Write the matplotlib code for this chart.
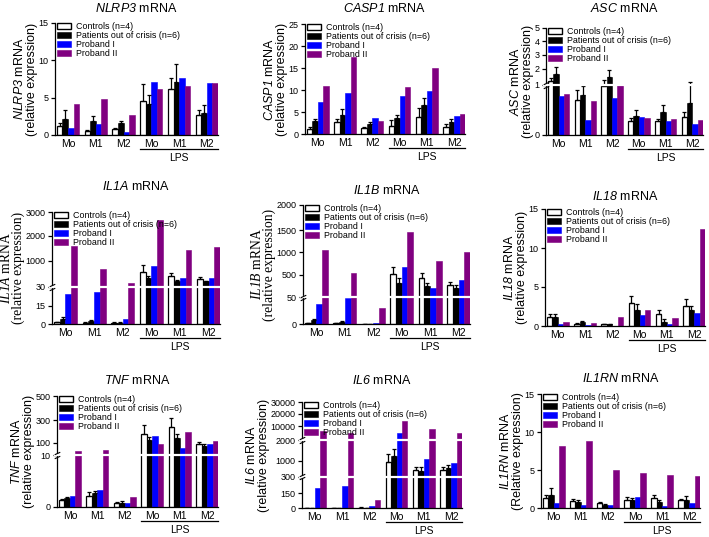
import numpy as np
import matplotlib
matplotlib.use('Agg')
import matplotlib.pyplot as plt
from matplotlib.patches import Patch
from matplotlib.path import Path
from matplotlib.transforms import ScaledTranslation

plt.rcParams['font.family'] = 'Liberation Sans'
# gene names go through mathtext so that letters and digits are both italic
plt.rcParams['mathtext.fontset'] = 'custom'
plt.rcParams['mathtext.rm'] = 'Liberation Sans:italic'
plt.rcParams['mathtext.sf'] = 'Liberation Serif:italic'

groups = ['Mo', 'M1', 'M2', 'Mo', 'M1', 'M2']
series = ['Controls (n=4)', 'Patients out of crisis (n=6)', 'Proband I', 'Proband II']
colors = ['white', 'black', '#0000ff', '#800080']

# NLRP3
nlrp3_c = [1.2, 0.6, 0.8, 4.6, 6.2, 2.7]
nlrp3_c_sem = [0.4, 0.1, 0.15, 2.2, 1.5, 0.7]
nlrp3_p = [2.2, 1.9, 1.6, 4.1, 7.1, 3.0]
nlrp3_p_sem = [1.1, 0.7, 0.3, 1.3, 2.4, 1.0]
nlrp3_p1 = [0.9, 1.5, 0.45, 7.1, 7.6, 6.9]
nlrp3_p2 = [4.2, 4.8, 2.7, 6.1, 6.5, 6.9]

# CASP1
casp1_c = [1.2, 2.8, 1.3, 1.9, 3.8, 1.5]
casp1_c_sem = [0.3, 0.7, 0.2, 1.3, 2.1, 0.8]
casp1_p = [3.0, 4.4, 2.3, 3.6, 6.7, 2.7]
casp1_p_sem = [0.3, 1.2, 0.5, 0.8, 1.4, 0.7]
casp1_p1 = [7.2, 9.4, 3.7, 8.6, 9.8, 4.2]
casp1_p2 = [11.0, 17.5, 3.0, 10.7, 15.1, 4.6]

# ASC
asc_c = [1.25, 0.7, 0.98, 0.28, 0.28, 0.35]
asc_c_sem = [0.2, 0.2, 0.3, 0.05, 0.04, 0.1]
asc_p = [1.7, 0.79, 1.5, 0.37, 0.46, 0.63]
asc_p_sem = [0.4, 0.18, 0.4, 0.13, 0.14, 0.55]
asc_p1 = [0.78, 0.3, 0.73, 0.35, 0.28, 0.21]
asc_p2 = [0.81, 0.68, 1.0, 0.33, 0.32, 0.29]

# IL1A
il1a_c = [1.5, 1, 1, 590, 430, 320]
il1a_c_sem = [0.5, 0.3, 0.3, 250, 120, 60]
il1a_p = [4, 2.5, 1, 340, 240, 240]
il1a_p_sem = [1.5, 1, 0.3, 90, 60, 20]
il1a_p1 = [24, 26, 4, 800, 340, 340]
il1a_p2 = [1590, 680, 190, 2650, 1420, 1560]

# IL1B
il1b_c = [2, 2, 0.5, 520, 430, 300]
il1b_c_sem = [0.5, 0.5, 0.2, 150, 120, 55]
il1b_p = [7, 4, 0.5, 345, 280, 245]
il1b_p_sem = [2, 1.5, 0.2, 90, 55, 55]
il1b_p1 = [37, 48, 1.5, 684, 231, 390]
il1b_p2 = [1050, 550, 30, 1450, 800, 1015]

# IL18
il18_c = [1.2, 0.3, 0.2, 3.0, 1.6, 2.6]
il18_c_sem = [0.4, 0.1, 0.05, 0.9, 0.5, 0.8]
il18_p = [1.1, 0.5, 0.2, 2.0, 0.5, 2.0]
il18_p_sem = [0.5, 0.2, 0.05, 0.8, 0.4, 0.6]
il18_p1 = [0.2, 0.1, 0.05, 1.4, 0.2, 1.7]
il18_p2 = [0.5, 0.4, 1.2, 2.1, 1.0, 12.5]

# TNF
tnf_c = [1.3, 2.1, 0.8, 180, 235, 88]
tnf_c_sem = [0.2, 0.7, 0.2, 75, 85, 20]
tnf_p = [1.7, 2.7, 0.8, 124, 144, 76]
tnf_p_sem = [0.3, 0.4, 0.3, 23, 32, 12]
tnf_p1 = [2.1, 3.2, 0.8, 159, 63, 90]
tnf_p2 = [42, 51, 1.9, 90, 197, 118]

# IL6
il6_c = [2, 1, 5, 950, 590, 590]
il6_c_sem = [1, 0.5, 2, 370, 150, 120]
il6_p = [3, 3, 3, 1220, 560, 660]
il6_p_sem = [1, 1, 1, 360, 150, 150]
il6_p1 = [200, 210, 25, 6300, 1100, 910]
il6_p2 = [7500, 5800, 80, 13900, 8300, 5800]

# IL1RN
il1rn_c = [1.3, 0.9, 0.6, 1.1, 1.3, 1.0]
il1rn_c_sem = [0.4, 0.3, 0.2, 0.3, 0.4, 0.2]
il1rn_p = [1.7, 0.8, 0.4, 1.0, 0.8, 1.0]
il1rn_p_sem = [0.9, 0.3, 0.1, 0.3, 0.2, 0.6]
il1rn_p1 = [0.7, 0.4, 0.4, 1.4, 0.3, 0.6]
il1rn_p2 = [8.1, 8.8, 5.0, 4.6, 4.3, 4.2]

# y ticks and (for broken axes) relative heights of those ticks
nlrp3_ticks = [0, 5, 10, 15]
casp1_ticks = [0, 5, 10, 15, 20, 25]
asc_ticks = [0, 1, 2, 3, 4, 5]
asc_h = [0, 150, 198, 240, 280, 320]
il1a_ticks = [0, 15, 30, 1000, 2000, 3000]
il1a_h = [0, 55, 112, 190, 265, 337]
il1b_ticks = [0, 50, 500, 1000, 1500, 2000]
il1b_h = [0, 80, 147, 215, 282, 357]
il18_ticks = [0, 5, 10, 15]
tnf_ticks = [0, 10, 100, 300, 500]
tnf_h = [0, 155, 192, 260, 332]
il6_ticks = [0, 150, 300, 1000, 2000, 10000, 20000, 30000]
il6_h = [0, 45, 95, 143, 205, 247, 285, 320]
il1rn_ticks = [0, 5, 10, 15]

W, H = 709, 537
fig = plt.figure(figsize=(W / 100, H / 100), dpi=100)

slash = Path([(-1, -0.45), (1, 0.45)], [Path.MOVETO, Path.LINETO])


def panel(box, title_y, gene, c, c_sem, p, p_sem, p1, p2, ticks, heights=None,
          breaks=(), serif=False, rel='relative', xlim=(-0.47, 5.4)):
    x0, x1, ytop, ybot = box
    ax = fig.add_axes([x0 / W, (H - ybot) / H, (x1 - x0) / W, (ybot - ytop) / H])
    axh = ybot - ytop
    if heights is not None:
        fwd = lambda v, t=ticks, h=heights: np.interp(v, t, h)
        inv = lambda v, t=ticks, h=heights: np.interp(v, h, t)
        ax.set_yscale('function', functions=(fwd, inv))
    x = np.arange(len(groups))
    bw = 0.2
    vals = [c, p, p1, p2]
    for i, (v, col) in enumerate(zip(vals, colors)):
        xs = x + (i - 1.5) * bw
        ec = 'black' if i < 2 else col
        ax.bar(xs, v, width=bw, color=col, edgecolor=ec, linewidth=0.9 if i == 0 else 0.4, zorder=2)
        if i < 2:
            sem = [c_sem, p_sem][i]
            ax.errorbar(xs, v, yerr=[np.zeros(len(v)), sem], fmt='none', ecolor='black',
                        elinewidth=0.9, capsize=1.6, capthick=0.9, zorder=3)
    ax.set_xlim(*xlim)
    ax.set_ylim(0, ticks[-1])
    ax.set_yticks(ticks)
    ax.set_yticklabels([str(t) for t in ticks])
    ax.yaxis.set_minor_locator(plt.NullLocator())
    ax.set_xticks(x)
    ax.set_xticklabels(groups)
    ax.tick_params(axis='x', length=0, pad=3, labelsize=7.5)
    ax.tick_params(axis='y', length=3, width=0.9, pad=1.5, labelsize=6.5)
    for s in ['top', 'right']:
        ax.spines[s].set_visible(False)
    for s in ['left', 'bottom']:
        ax.spines[s].set_linewidth(0.9)

    for b in breaks:
        ax.plot([-0.02, 1], [b, b], transform=ax.get_yaxis_transform(), color='white',
                lw=1.6, clip_on=False, zorder=5, solid_capstyle='butt')
        for dy in (-1.3, 1.3):
            tr = ax.get_yaxis_transform() + ScaledTranslation(0, dy / 72, fig.dpi_scale_trans)
            ax.plot([0], [b], transform=tr, marker=slash, ms=4, mew=0.8, color='black',
                    clip_on=False, zorder=6)

    # LPS bracket
    ly = -14 / axh
    ax.plot([2.6, xlim[1]], [ly, ly], transform=ax.get_xaxis_transform(), color='black',
            lw=0.9, clip_on=False)
    ax.text(4.0, -23 / axh, 'LPS', transform=ax.get_xaxis_transform(), ha='center',
            va='center', fontsize=7.5)

    ax.set_title(r'$\mathrm{%s}$ mRNA' % gene, fontsize=9, y=1 + (ytop - title_y) / axh,
                 va='center', pad=0)
    if serif:
        lab = r'$\mathsf{%s}$ mRNA' % gene + '\n(%s expression)' % rel
        ax.set_ylabel(lab, fontsize=9.8, family='Liberation Serif',
                      linespacing=0.85, labelpad=0.3)
    else:
        lab = r'$\mathrm{%s}$ mRNA' % gene + '\n(%s expression)' % rel
        ax.set_ylabel(lab, fontsize=9, linespacing=1.05, labelpad=0.5)

    handles = [Patch(facecolor=col, edgecolor='black' if i < 2 else col, linewidth=1.0 if i == 0 else 0.4)
               for i, col in enumerate(colors)]
    ax.legend(handles, series, loc='upper left', bbox_to_anchor=(0.01, 1.005), frameon=False,
              fontsize=6.4, handlelength=1.6, handleheight=0.7, labelspacing=0.0,
              handletextpad=0.6, borderpad=0, borderaxespad=0)
    return ax


panel((55, 218, 23, 135), 9, 'NLRP3', nlrp3_c, nlrp3_c_sem, nlrp3_p, nlrp3_p_sem,
      nlrp3_p1, nlrp3_p2, nlrp3_ticks)
panel((305, 465, 24, 134), 9, 'CASP1', casp1_c, casp1_c_sem, casp1_p, casp1_p_sem,
      casp1_p1, casp1_p2, casp1_ticks)
panel((546, 703, 28, 135), 9, 'ASC', asc_c, asc_c_sem, asc_p, asc_p_sem,
      asc_p1, asc_p2, asc_ticks, asc_h, breaks=(1,))
panel((52, 220, 212, 324), 187, 'IL1A', il1a_c, il1a_c_sem, il1a_p, il1a_p_sem,
      il1a_p1, il1a_p2, il1a_ticks, il1a_h, breaks=(30,), serif=True)
panel((303, 470, 205, 324), 191, 'IL1B', il1b_c, il1b_c_sem, il1b_p, il1b_p_sem,
      il1b_p1, il1b_p2, il1b_ticks, il1b_h, breaks=(50,), serif=True)
panel((545, 705, 209, 326), 197, 'IL18', il18_c, il18_c_sem, il18_p, il18_p_sem,
      il18_p1, il18_p2, il18_ticks)
panel((57, 218, 396, 507), 380, 'TNF', tnf_c, tnf_c_sem, tnf_p, tnf_p_sem,
      tnf_p1, tnf_p2, tnf_ticks, tnf_h, breaks=(10,))
panel((302, 462, 402, 508), 381, 'IL6', il6_c, il6_c_sem, il6_p, il6_p_sem,
      il6_p1, il6_p2, il6_ticks, il6_h, breaks=(300, 2000))
panel((541, 700, 394, 508), 379, 'IL1RN', il1rn_c, il1rn_c_sem, il1rn_p, il1rn_p_sem,
      il1rn_p1, il1rn_p2, il1rn_ticks, rel='Relative')

fig.savefig('out.png', dpi=100)
